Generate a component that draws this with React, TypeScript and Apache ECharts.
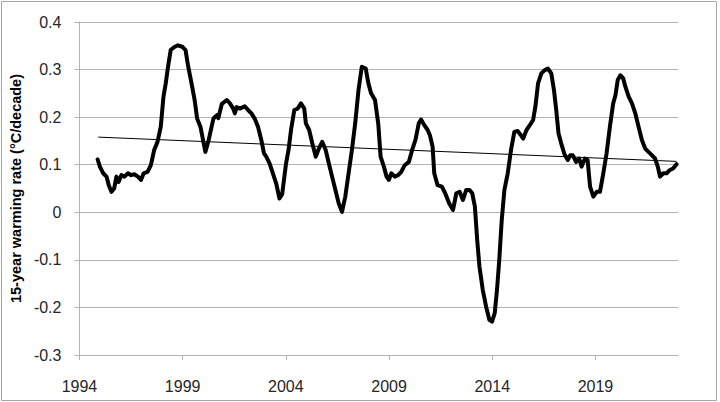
import React, { useEffect, useRef } from "react";
import * as echarts from "echarts";

const years: number[] = [
  1994.88, 1994.99, 1995.15, 1995.31, 1995.42, 1995.55, 1995.68, 1995.79, 1995.9, 1996.03,
  1996.18, 1996.35, 1996.5, 1996.66, 1996.83, 1996.98, 1997.11, 1997.3, 1997.46, 1997.62,
  1997.78, 1997.94, 1998.07, 1998.18, 1998.29, 1998.42, 1998.58, 1998.77, 1998.98, 1999.14,
  1999.27, 1999.46, 1999.58, 1999.7, 1999.86, 2000.1, 2000.25, 2000.49, 2000.66, 2000.73,
  2000.9, 2001.14, 2001.29, 2001.45, 2001.53, 2001.61, 2001.77, 2002.01, 2002.17, 2002.33,
  2002.49, 2002.65, 2002.81, 2002.94, 2003.05, 2003.21, 2003.37, 2003.53, 2003.69, 2003.82,
  2004.01, 2004.13, 2004.25, 2004.41, 2004.57, 2004.73, 2004.89, 2004.97, 2005.13, 2005.28,
  2005.45, 2005.6, 2005.76, 2005.93, 2006.08, 2006.24, 2006.4, 2006.56, 2006.72, 2006.88,
  2007.04, 2007.2, 2007.36, 2007.52, 2007.68, 2007.87, 2008.0, 2008.13, 2008.32, 2008.48,
  2008.59, 2008.75, 2008.88, 2008.99, 2009.11, 2009.28, 2009.44, 2009.59, 2009.76, 2009.96,
  2010.12, 2010.28, 2010.44, 2010.55, 2010.71, 2010.87, 2010.98, 2011.11, 2011.19, 2011.35,
  2011.56, 2011.72, 2011.91, 2012.1, 2012.26, 2012.42, 2012.58, 2012.74, 2012.9, 2013.03,
  2013.16, 2013.27, 2013.38, 2013.54, 2013.7, 2013.86, 2013.99, 2014.12, 2014.23, 2014.34,
  2014.46, 2014.59, 2014.75, 2014.91, 2015.07, 2015.23, 2015.39, 2015.5, 2015.66, 2015.82,
  2015.98, 2016.09, 2016.22, 2016.38, 2016.54, 2016.7, 2016.86, 2016.99, 2017.1, 2017.21,
  2017.34, 2017.5, 2017.66, 2017.78, 2017.9, 2018.06, 2018.21, 2018.33, 2018.49, 2018.62,
  2018.74, 2018.9, 2019.06, 2019.22, 2019.38, 2019.54, 2019.7, 2019.86, 2019.97, 2020.08,
  2020.21, 2020.34, 2020.45, 2020.61, 2020.77, 2020.93, 2021.09, 2021.25, 2021.41, 2021.57,
  2021.73, 2021.89, 2022.02, 2022.13, 2022.29, 2022.45, 2022.61, 2022.76, 2022.93,
];

const rates: number[] = [
  0.111, 0.096, 0.082, 0.075, 0.057, 0.043, 0.05, 0.075, 0.064, 0.078,
  0.075, 0.082, 0.078, 0.08, 0.075, 0.068, 0.082, 0.085, 0.099, 0.131,
  0.148, 0.18, 0.243, 0.271, 0.306, 0.341, 0.347, 0.351, 0.348, 0.341,
  0.306, 0.264, 0.236, 0.197, 0.18, 0.127, 0.15, 0.197, 0.204, 0.198,
  0.228, 0.236, 0.229, 0.218, 0.208, 0.221, 0.218, 0.223, 0.215, 0.208,
  0.197, 0.18, 0.152, 0.124, 0.117, 0.103, 0.082, 0.061, 0.029, 0.038,
  0.103, 0.131, 0.173, 0.215, 0.218, 0.229, 0.218, 0.187, 0.173, 0.145,
  0.117, 0.134, 0.148, 0.131, 0.103, 0.075, 0.047, 0.019, 0.001, 0.033,
  0.082, 0.131, 0.187, 0.257, 0.306, 0.302, 0.271, 0.25, 0.236, 0.185,
  0.117, 0.096, 0.075, 0.068, 0.082, 0.075, 0.078, 0.085, 0.099, 0.106,
  0.131, 0.152, 0.187, 0.195, 0.183, 0.173, 0.162, 0.138, 0.082, 0.057,
  0.054, 0.04, 0.019, 0.005, 0.04, 0.043, 0.026, 0.047, 0.047, 0.04,
  0.012, -0.058, -0.114, -0.163, -0.198, -0.226, -0.23, -0.212, -0.163, -0.1,
  -0.016, 0.047, 0.082, 0.131, 0.169, 0.171, 0.162, 0.155, 0.173, 0.183,
  0.194, 0.222, 0.271, 0.292, 0.299, 0.302, 0.292, 0.257, 0.215, 0.166,
  0.145, 0.122, 0.11, 0.12, 0.12, 0.106, 0.113, 0.096, 0.113, 0.11,
  0.054, 0.033, 0.043, 0.043, 0.082, 0.124, 0.18, 0.229, 0.246, 0.278,
  0.288, 0.282, 0.264, 0.243, 0.229, 0.208, 0.18, 0.152, 0.134, 0.127,
  0.12, 0.113, 0.096, 0.075, 0.082, 0.082, 0.089, 0.092, 0.101,
];

const trendYears: number[] = [1994.91, 2022.93];
const trendValues: number[] = [0.158, 0.107];

const xTicks: number[] = [1994, 1999, 2004, 2009, 2014, 2019];
const yTitle = "15-year warming rate (°C/decade)";

const FONT = "'Liberation Sans', Arial, sans-serif";
const GRID_COLOR = "#b3b3b3";

export default function App() {
  const ref = useRef<HTMLDivElement>(null);

  useEffect(() => {
    if (!ref.current) return;
    const chart = echarts.init(ref.current, undefined, { renderer: "svg" });
    const mainData = years.map((y, i) => [y, rates[i]]);
    const trendData = trendYears.map((y, i) => [y, trendValues[i]]);
    chart.setOption({
      animation: false,
      backgroundColor: "#ffffff",
      grid: { left: 73, right: 42, top: 22, bottom: 47 },
      graphic: [
        {
          type: "rect",
          shape: { x: 1.5, y: 1.5, width: 715, height: 399 },
          style: { fill: "none", stroke: "#a6a6a6", lineWidth: 1 },
          silent: true,
        },
      ],
      xAxis: {
        type: "value",
        min: 1994,
        max: 2023,
        splitLine: { show: false },
        axisLine: { show: true, onZero: false, lineStyle: { color: GRID_COLOR, width: 1 } },
        axisTick: {
          show: true,
          length: 5,
          customValues: xTicks,
          lineStyle: { color: GRID_COLOR },
        },
        axisLabel: {
          customValues: xTicks,
          formatter: (v: number) => String(Math.round(v)),
          color: "#262626",
          fontFamily: FONT,
          fontSize: 16,
          margin: 23,
        },
      },
      yAxis: {
        type: "value",
        min: -0.3,
        max: 0.4,
        interval: 0.1,
        name: yTitle,
        nameLocation: "middle",
        nameGap: 47,
        nameRotate: 90,
        nameTextStyle: {
          fontFamily: FONT,
          fontSize: 14.5,
          fontWeight: "bold",
          color: "#000000",
        },
        axisLine: { show: true, lineStyle: { color: GRID_COLOR, width: 1 } },
        axisTick: { show: true, length: 5, lineStyle: { color: GRID_COLOR } },
        splitLine: { show: true, lineStyle: { color: GRID_COLOR, width: 1 } },
        axisLabel: {
          formatter: (v: number) => {
            const s = Number(v.toFixed(1));
            return String(s === 0 ? 0 : s);
          },
          color: "#262626",
          fontFamily: FONT,
          fontSize: 16,
          margin: 18,
        },
      },
      series: [
        {
          type: "line",
          data: mainData,
          showSymbol: false,
          symbol: "none",
          lineStyle: { color: "#000000", width: 4, join: "round", cap: "round" },
          z: 3,
        },
        {
          type: "line",
          data: trendData,
          showSymbol: false,
          symbol: "none",
          lineStyle: { color: "#000000", width: 1 },
          z: 4,
        },
      ],
    });
    return () => chart.dispose();
  }, []);

  return (
    <div
      ref={ref}
      style={{ position: "absolute", left: 0, top: 0, width: 720, height: 402 }}
    />
  );
}
